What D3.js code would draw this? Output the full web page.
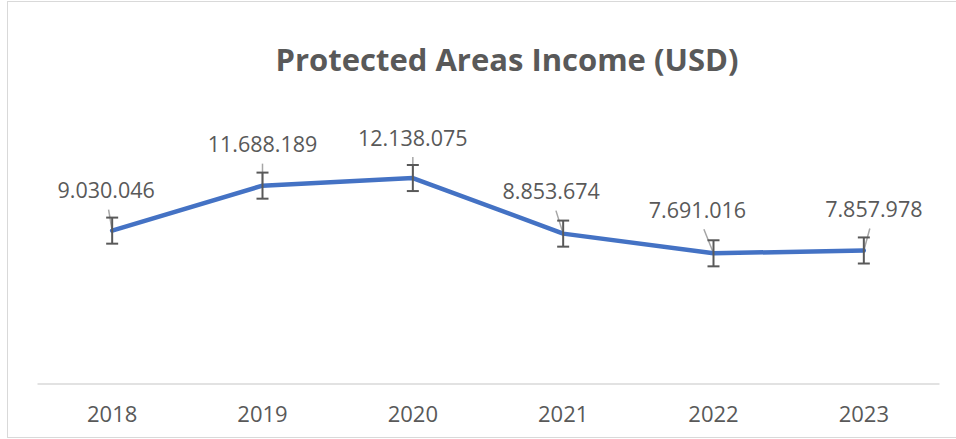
<!DOCTYPE html>
<html>
<head>
<meta charset="utf-8">
<script src="https://cdn.jsdelivr.net/npm/d3@7"></script>
<style>
  body { margin: 0; background: #fff; }
  svg text { font-family: "Open Sans", sans-serif; fill: #595959; }
</style>
</head>
<body>
<div id="chart"></div>
<script>
var years = ["2018", "2019", "2020", "2021", "2022", "2023"];
var income = [9030046, 11688189, 12138075, 8853674, 7691016, 7857978];
var errorSize = 770000;
var labelText = ["9.030.046", "11.688.189", "12.138.075", "8.853.674", "7.691.016", "7.857.978"];
// label offsets relative to point (dx, dy), as placed in the original
var labelDx = [-6, 0, 0, -12, -16, 10];
var labelDy = [-38, -39, -38, -40, -41, -39];

var width = 956, height = 439;

var svg = d3.select("#chart").append("svg")
  .attr("width", width)
  .attr("height", height);

// chart frame
svg.append("rect")
  .attr("x", 7.5).attr("y", 1.5)
  .attr("width", 960).attr("height", 436)
  .attr("fill", "#fff")
  .attr("stroke", "#d9d9d9");

svg.append("text")
  .attr("x", 507).attr("y", 71)
  .attr("text-anchor", "middle")
  .style("font-size", "31px")
  .style("font-weight", "bold")
  .text("Protected Areas Income (USD)");

var x = d3.scaleBand().domain(years).range([37, 939]);
var y = d3.scaleLinear().domain([0, 14000000]).range([383.5, 146.5]);

var xAxis = svg.append("g")
  .attr("transform", "translate(0," + y(0) + ")")
  .call(d3.axisBottom(x).tickSize(0).tickPadding(23));
xAxis.select(".domain").attr("stroke", "#d9d9d9").attr("stroke-width", 1.5);
xAxis.selectAll("text")
  .style("font-size", "22px")
  .style("fill", "#595959")
  .style("font-family", "Open Sans, sans-serif");

function cx(d, i) { return x(years[i]) + x.bandwidth() / 2; }

var line = d3.line()
  .x(function(d, i) { return cx(d, i); })
  .y(function(d) { return y(d); });

// leader lines
svg.append("g").selectAll("line")
  .data(income)
  .enter().append("line")
  .attr("x1", function(d, i) { return cx(d, i); })
  .attr("y1", function(d) { return y(d); })
  .attr("x2", function(d, i) { return cx(d, i) + labelDx[i] * 0.6; })
  .attr("y2", function(d, i) { return y(d) + labelDy[i] + 17; })
  .attr("stroke", "#a6a6a6")
  .attr("stroke-width", 1.5);

svg.append("path")
  .datum(income)
  .attr("d", line)
  .attr("fill", "none")
  .attr("stroke", "#4472c4")
  .attr("stroke-width", 4.5)
  .attr("stroke-linejoin", "round")
  .attr("stroke-linecap", "round");

// error bars
var err = svg.append("g").attr("stroke", "#595959").attr("stroke-width", 2);
income.forEach(function(d, i) {
  var c = cx(d, i);
  var top = y(d + errorSize), bot = y(d - errorSize);
  err.append("line").attr("x1", c).attr("x2", c).attr("y1", top).attr("y2", bot);
  err.append("line").attr("x1", c - 6).attr("x2", c + 6).attr("y1", top).attr("y2", top);
  err.append("line").attr("x1", c - 6).attr("x2", c + 6).attr("y1", bot).attr("y2", bot);
});

svg.append("g").selectAll("text")
  .data(income)
  .enter().append("text")
  .attr("x", function(d, i) { return cx(d, i) + labelDx[i]; })
  .attr("y", function(d, i) { return y(d) + labelDy[i]; })
  .attr("text-anchor", "middle")
  .attr("dominant-baseline", "middle")
  .style("font-size", "21.5px")
  .text(function(d, i) { return labelText[i]; });
</script>
</body>
</html>
